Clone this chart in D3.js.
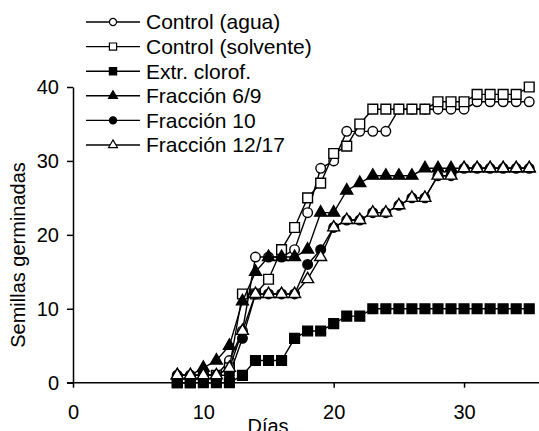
<!DOCTYPE html>
<html>
<head>
<meta charset="utf-8">
<script src="https://cdn.jsdelivr.net/npm/d3@7"></script>
<style>
  body { margin: 0; background: #fff; }
  text { font-family: "Liberation Sans", Arial, sans-serif; }
</style>
</head>
<body>
<div id="chart"></div>
<script>
// days observed
var days = [8,9,10,11,12,13,14,15,16,17,18,19,20,21,22,23,24,25,26,27,28,29,30,31,32,33,34,35];

var seriesNames = ["Control (agua)", "Control (solvente)", "Extr. clorof.", "Fracción 6/9", "Fracción 10", "Fracción 12/17"];

var controlAgua     = [1,1,1,1,3,7,17,17,17,18,23,29,30,34,34,34,34,37,37,37,37,37,37,38,38,38,38,38];
var controlSolvente = [0,0,1,1,2,12,12,14,18,21,25,27,31,32,35,37,37,37,37,37,38,38,38,39,39,39,39,40];
var extrClorof      = [0,0,0,0,0,1,3,3,3,6,7,7,8,9,9,10,10,10,10,10,10,10,10,10,10,10,10,10];
var fraccion69      = [1,1,2,3,5,11,15,17,17,17,18,23,23,26,27,28,28,28,28,29,29,29,29,29,29,29,29,29];
var fraccion10      = [1,1,1,1,1,6,12,12,12,12,16,18,21,22,22,23,23,24,25,25,28,28,29,29,29,29,29,29];
var fraccion1217    = [1,1,1,1,2,7,12,12,12,12,14,17,21,22,22,23,23,24,25,25,28,28,29,29,29,29,29,29];

var xTicks = [0, 10, 20, 30];
var yTicks = [0, 10, 20, 30, 40];

var allValues = [controlAgua, controlSolvente, extrClorof, fraccion69, fraccion10, fraccion1217];
var markers = [
  {type: d3.symbolCircle, size: 72, fill: "#fff"},
  {type: d3.symbolSquare, size: 95, fill: "#fff"},
  {type: d3.symbolSquare, size: 95, fill: "#000"},
  {type: d3.symbolTriangle, size: 62, fill: "#000"},
  {type: d3.symbolCircle, size: 72, fill: "#000"},
  {type: d3.symbolTriangle, size: 62, fill: "#fff"}
];

var W = 539, H = 431;
var svg = d3.select("#chart").append("svg")
  .attr("width", W).attr("height", H);

var x = d3.scaleLinear().domain([0, 35.75]).range([73, 539]);
var y = d3.scaleLinear().domain([0, 40]).range([382.7, 87]);

var fontSize = 20;

// x axis
var xAxis = svg.append("g")
  .attr("transform", "translate(0," + y(0) + ")")
  .call(d3.axisBottom(x).tickValues(xTicks).tickSize(5).tickSizeOuter(0).tickPadding(17));
xAxis.select(".domain").attr("stroke", "#000").attr("stroke-width", 1.5)
  .attr("d", "M" + (x(0) - 6) + ",0H" + W);
xAxis.selectAll(".tick line").attr("stroke-width", 1.5);
xAxis.selectAll(".tick text").attr("font-size", fontSize).attr("font-family", "Liberation Sans, Arial").attr("fill", "#000");

// y axis
var yAxis = svg.append("g")
  .attr("transform", "translate(" + x(0) + ",0)")
  .call(d3.axisLeft(y).tickValues(yTicks).tickSize(6).tickSizeOuter(0).tickPadding(8));
yAxis.select(".domain").attr("stroke", "#000").attr("stroke-width", 1.5);
yAxis.selectAll(".tick line").attr("stroke-width", 1.5);
yAxis.selectAll(".tick text").attr("font-size", fontSize).attr("font-family", "Liberation Sans, Arial").attr("fill", "#000");

// axis titles
svg.append("text")
  .attr("x", 268).attr("y", 433)
  .attr("text-anchor", "middle")
  .attr("font-size", fontSize)
  .text("Días");

svg.append("text")
  .attr("transform", "translate(25,255) rotate(-90)")
  .attr("text-anchor", "middle")
  .attr("font-size", fontSize)
  .text("Semillas germinadas");

// series lines + markers
var line = d3.line()
  .x(function(d) { return x(d[0]); })
  .y(function(d) { return y(d[1]); });

allValues.forEach(function(vals, i) {
  var pts = days.map(function(d, j) { return [d, vals[j]]; });
  var g = svg.append("g");
  g.append("path")
    .datum(pts)
    .attr("d", line)
    .attr("fill", "none")
    .attr("stroke", "#000")
    .attr("stroke-width", 1.4);
  g.selectAll("path.mk")
    .data(pts)
    .enter()
    .append("path")
    .attr("class", "mk")
    .attr("transform", function(d) { return "translate(" + x(d[0]) + "," + y(d[1]) + ")"; })
    .attr("d", d3.symbol().type(markers[i].type).size(markers[i].size))
    .attr("fill", markers[i].fill)
    .attr("stroke", "#000")
    .attr("stroke-width", 1.4);
});

// legend
var legend = svg.append("g");
seriesNames.forEach(function(name, i) {
  var ly = 22 + i * 24.6;
  legend.append("line")
    .attr("x1", 86).attr("x2", 140)
    .attr("y1", ly).attr("y2", ly)
    .attr("stroke", "#000").attr("stroke-width", 1.4);
  legend.append("path")
    .attr("transform", "translate(113," + ly + ")")
    .attr("d", d3.symbol().type(markers[i].type).size(markers[i].size * 0.55))
    .attr("fill", markers[i].fill)
    .attr("stroke", "#000")
    .attr("stroke-width", 1.2);
  legend.append("text")
    .attr("x", 146).attr("y", ly)
    .attr("dy", "0.35em")
    .attr("font-size", 21)
    .text(name);
});
</script>
</body>
</html>
